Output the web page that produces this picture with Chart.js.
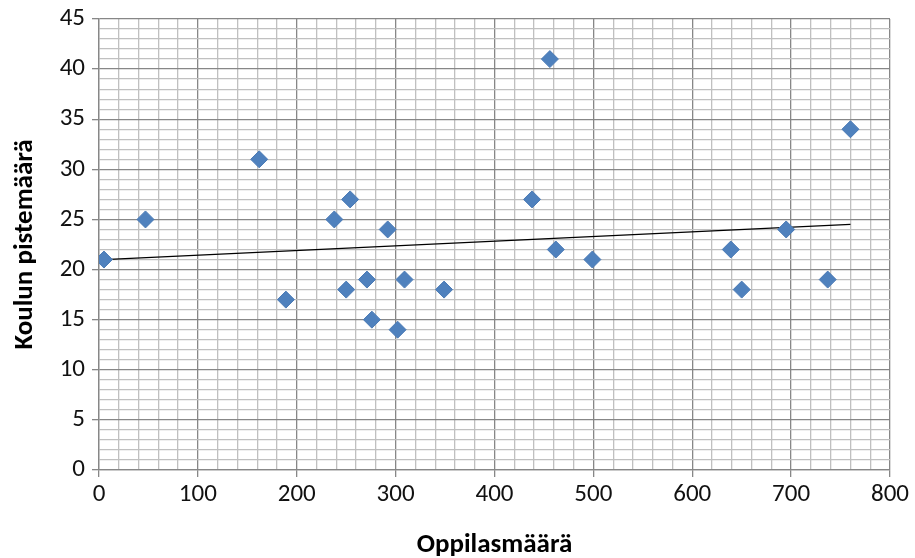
<!DOCTYPE html>
<html>
<head>
<meta charset="utf-8">
<script src="https://cdn.jsdelivr.net/npm/chart.js@4"></script>
<style>
  body { margin: 0; background: #fff; }
</style>
</head>
<body>
<canvas id="chart" width="915" height="558"></canvas>
<script>
// oppilasmäärä ja pisteet, luettu kuvasta
const students = [5, 47, 162, 189, 238, 254, 250, 271, 276, 292, 302, 309, 349, 438, 456, 462, 499, 639, 650, 695, 737, 760]
const points = [21, 25, 31, 17, 25, 27, 18, 19, 15, 24, 14, 19, 18, 27, 41, 22, 21, 22, 18, 24, 19, 34]

// trendiviivan päätepisteet
const trendX = [5, 760]
const trendY = [21.0, 24.5]

const xTitle = 'Oppilasmäärä'
const yTitle = 'Koulun pistemäärä'

const fontFamily = 'Carlito, Calibri, Lato, sans-serif'
const majorColor = '#878787'
const minorColor = '#c0c0c0'

function toXY(xs, ys) {
    let out = []
    for (let i = 0; i < xs.length; i++)
        out.push({ x: xs[i], y: ys[i] })
    return out
}

const data = {
    datasets: [{
            type: 'scatter',
            data: toXY(students, points),
            pointStyle: 'rectRot',
            radius: 8.5,
            hoverRadius: 8.5,
            backgroundColor: '#4f81bd',
            borderColor: '#4a7ab5',
            borderWidth: 1,
            order: 1
        }, {
            type: 'line',
            data: toXY(trendX, trendY),
            borderColor: '#000000',
            borderWidth: 1.3,
            pointRadius: 0,
            fill: false,
            order: 2
        }]
};

const config = {
    type: 'scatter',
    data: data,
    options: {
        responsive: false,
        animation: false,
        layout: { padding: { left: 0, top: 19, right: 25, bottom: 0 } },
        plugins: {
            legend: { display: false },
            tooltip: { enabled: false }
        },
        scales: {
            x: {
                type: 'linear',
                min: 0,
                max: 800,
                ticks: {
                    stepSize: 20,
                    autoSkip: false,
                    maxRotation: 0,
                    color: '#111',
                    padding: 3,
                    font: { family: fontFamily, size: 25 },
                    callback: (v) => v % 100 === 0 ? v : ''
                },
                grid: {
                    color: (c) => c.tick && c.tick.value % 100 === 0 ? majorColor : minorColor,
                    tickColor: (c) => c.tick && c.tick.value % 100 === 0 ? majorColor : 'rgba(0,0,0,0)',
                    lineWidth: 1.3,
                    tickLength: 7
                },
                border: { color: majorColor, width: 1.3 },
                title: {
                    display: true,
                    text: xTitle,
                    color: '#000',
                    font: { family: fontFamily, size: 27, weight: 'bold' },
                    padding: { top: 0, bottom: -3 }
                },
                afterFit: (scale) => {
                    scale.height = 88
                    scale.paddingLeft = 0
                    scale.paddingRight = 0
                }
            },
            y: {
                min: 0,
                max: 45,
                ticks: {
                    stepSize: 1,
                    autoSkip: false,
                    color: '#111',
                    padding: 7,
                    font: { family: fontFamily, size: 25 },
                    callback: (v) => v % 5 === 0 ? v : ''
                },
                grid: {
                    color: (c) => c.tick && c.tick.value % 5 === 0 ? majorColor : minorColor,
                    tickColor: (c) => c.tick && c.tick.value % 5 === 0 ? majorColor : 'rgba(0,0,0,0)',
                    lineWidth: 1.3,
                    tickLength: 7
                },
                border: { color: majorColor, width: 1.3 },
                title: {
                    display: true,
                    text: yTitle,
                    color: '#000',
                    font: { family: fontFamily, size: 27, weight: 'bold' },
                    padding: { top: 9, bottom: 0 }
                },
                afterFit: (scale) => {
                    scale.width = 99
                    scale.paddingTop = 0
                    scale.paddingBottom = 0
                }
            }
        }
    }
};

let ctx = document.getElementById('chart').getContext('2d')

new Chart(ctx, config)
</script>
</body>
</html>
